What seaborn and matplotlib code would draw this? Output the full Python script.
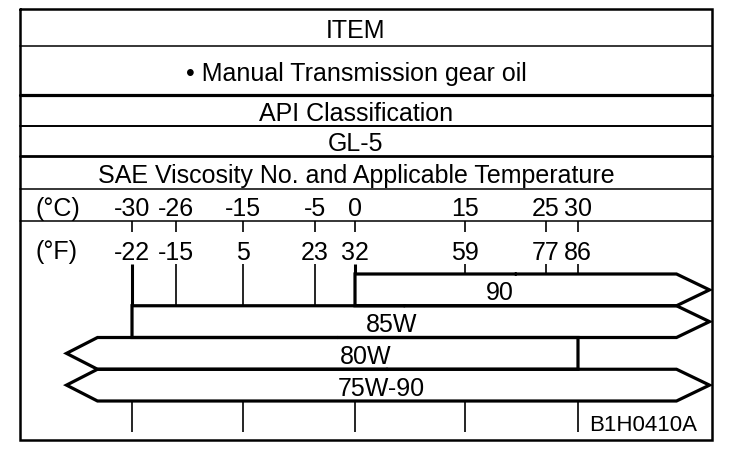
import numpy as np
import pandas as pd
import matplotlib
matplotlib.use("Agg")
import matplotlib.pyplot as plt
import seaborn as sns

# ---------------- data ----------------
header_rows = ["ITEM", "\u2022 Manual Transmission gear oil", "API Classification", "GL-5",
               "SAE Viscosity No. and Applicable Temperature"]
celsius_labels = [-30, -26, -15, -5, 0, 15, 25, 30]
fahrenheit_labels = [-22, -15, 5, 23, 32, 59, 77, 86]
# where each temperature label sits on the chart's (not strictly linear) scale, in deg C
celsius_positions = [-30, -24.1, -15.1, -5.4, 0, 14.8, 25.7, 30]
grades = ["90", "85W", "80W", "75W-90"]
grade_low_c = [0, -30, None, None]      # None = open (arrow) end
grade_high_c = [None, None, 30, None]
bottom_tick_c = [-30, -15, 0, 15, 30]
figure_code = "B1H0410A"

# ---------------- layout (pixels) ----------------
X0_PX, PX_PER_C = 355.0, 7.433


def px2c(px):
    return (px - X0_PX) / PX_PER_C


FRAME_L, FRAME_R, FRAME_T, FRAME_B = 20.5, 711.5, 10.0, 441.0
row_lines = [(46.7, 1.1), (95.7, 2.3), (126.7, 1.4), (157.0, 2.0), (190.0, 1.1), (222.0, 1.1)]
row_text_y = [28.3, 71.5, 111.5, 142.0, 174.0]
HEADER_CX = 356.0
C_ROW_Y, F_ROW_Y = 207.0, 250.0
UP_TICK = (222.0, 233.0)
LOW_TICK_TOP = 265.0
BAR_TOP0, BAR_H = 275.0, 31.75
TIP_R, SLANT_R = px2c(709.5), px2c(676.5)
TIP_L, SLANT_L = px2c(66.5), px2c(97.5)
label_x_px = [500, 392, 366, 381]
BOTTOM_TICK = (402.0, 433.0)

sns.set_theme(style="white")
plt.rcParams["font.family"] = ["Liberation Sans", "DejaVu Sans"]

fig = plt.figure(figsize=(7.36, 4.6), dpi=100)
ax = fig.add_axes([0, 0, 1, 1])
ax.set_xlim(px2c(0), px2c(736))
ax.set_ylim(460, 0)
ax.set_axis_off()

# frame
ax.plot([px2c(FRAME_L), px2c(FRAME_R), px2c(FRAME_R), px2c(FRAME_L), px2c(FRAME_L)],
        [FRAME_T, FRAME_T, FRAME_B, FRAME_B, FRAME_T], color="black", lw=1.8,
        solid_joinstyle="miter")
for y, lw in row_lines:
    ax.plot([px2c(FRAME_L), px2c(FRAME_R)], [y, y], color="black", lw=lw)

FS = 18
for txt, y in zip(header_rows, row_text_y):
    ax.text(px2c(HEADER_CX), y, txt, ha="center", va="center_baseline", fontsize=FS, color="black")

ax.text(px2c(57.5), C_ROW_Y, "(\u00b0C)", ha="center", va="center_baseline", fontsize=FS, color="black")
ax.text(px2c(56.5), F_ROW_Y, "(\u00b0F)", ha="center", va="center_baseline", fontsize=FS, color="black")
for c, f, pos in zip(celsius_labels, fahrenheit_labels, celsius_positions):
    ax.text(pos, C_ROW_Y, str(c), ha="center", va="center_baseline", fontsize=FS, color="black")
    ax.text(pos, F_ROW_Y, str(f), ha="center", va="center_baseline", fontsize=FS, color="black")

# bar geometry
bar_tops = [BAR_TOP0 + i * BAR_H for i in range(len(grades))]


def covers(i, x):
    lo, hi = grade_low_c[i], grade_high_c[i]
    return (lo is None or lo <= x + 1e-9) and (hi is None or x <= hi + 1e-9)


# ticks
ax.vlines(celsius_positions, UP_TICK[0], UP_TICK[1], color="black", lw=1.2)
for pos in celsius_positions:
    end = next(bar_tops[i] for i in range(len(grades)) if covers(i, pos))
    thick = pos in grade_low_c
    ax.vlines(pos, LOW_TICK_TOP, end, color="black", lw=2.2 if thick else 1.2)
bt = [celsius_positions[celsius_labels.index(v)] for v in bottom_tick_c]
ax.vlines(bt, BOTTOM_TICK[0], BOTTOM_TICK[1], color="black", lw=1.2)

# bar outlines
rows = []
for i, g in enumerate(grades):
    top = bar_tops[i]
    bot = top + BAR_H
    mid = (top + bot) / 2
    lo, hi = grade_low_c[i], grade_high_c[i]
    lx = lo if lo is not None else SLANT_L
    rx = hi if hi is not None else SLANT_R
    start = ((lx + rx) / 2, top)
    pts = [start, (rx, top)]
    if hi is None:
        pts.append((TIP_R, mid))
    pts.append((rx, bot))
    pts.append((lx, bot))
    if lo is None:
        pts.append((TIP_L, mid))
    pts.append((lx, top))
    pts.append(start)
    for k, (x, y) in enumerate(pts):
        rows.append({"grade": g, "order": k, "x": x, "y": y})
    ax.text(px2c(label_x_px[i]), mid, g, ha="center", va="center_baseline", fontsize=FS, color="black")

outline_df = pd.DataFrame(rows)
sns.lineplot(data=outline_df, x="x", y="y", units="grade", estimator=None, sort=False,
             color="black", lw=2.3, ax=ax, legend=False)
for ln in ax.lines[-len(grades):]:
    ln.set_solid_joinstyle("miter")
ax.set_xlim(px2c(0), px2c(736))
ax.set_ylim(460, 0)
ax.set_axis_off()

ax.text(px2c(697), 423, figure_code, ha="right", va="center_baseline", fontsize=16, color="black")

fig.savefig("out.png", dpi=100, facecolor="white")
